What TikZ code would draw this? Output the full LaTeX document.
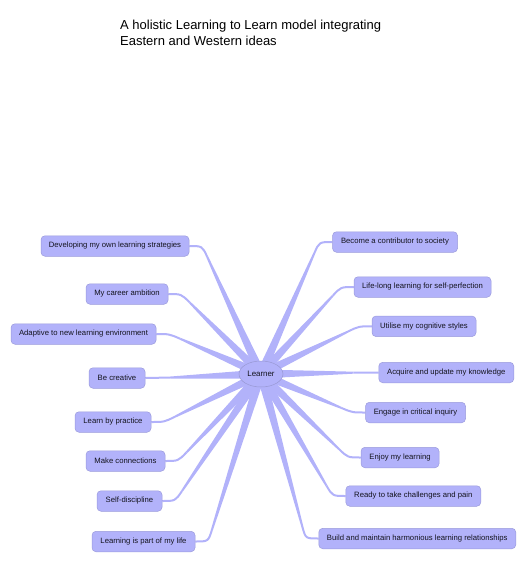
\documentclass[tikz,border=0pt]{standalone}
\usepackage{fontspec}
\setmainfont{Liberation Sans}
\usetikzlibrary{calc,shapes.geometric}
\definecolor{brc}{RGB}{178,178,250}
\definecolor{nfill}{RGB}{178,178,250}
\definecolor{nborder}{RGB}{155,155,220}
\definecolor{ntext}{RGB}{20,20,30}
\pgfdeclarelayer{bg}
\pgfsetlayers{bg,main}
\tikzset{
  leaf/.style={draw=nborder, line width=0.5pt, fill=nfill, rounded corners=4pt,
    minimum height=20.5pt, inner sep=0pt, text=ntext,
    font=\fontsize{7.7}{9}\selectfont},
  hub/.style={ellipse, draw=nborder!90!gray, line width=0.5pt, fill=nfill,
    minimum width=44pt, minimum height=26pt, inner sep=0pt, text=ntext,
    font=\fontsize{7.9}{9}\selectfont},
  brfill/.style={fill=brc},
  brline/.style={draw=brc, line width=2pt},
  titletext/.style={anchor=base west, inner sep=0pt, text=black,
    font=\fontsize{13}{16}\selectfont}
}
\newcommand\mybranch[3]{%
  \coordinate (K) at ($(#1.#2)+(#3,0)$);
  \coordinate (A) at ($(K)!12pt!(learner.center)$);
  \fill[brfill] ($(learner.center)!4.5pt!90:(A)$) -- ($(A)!1pt!-90:(learner.center)$)
     -- ($(A)!1pt!90:(learner.center)$) -- ($(learner.center)!4.5pt!-90:(A)$) -- cycle;
  \draw[brline] (A) .. controls (K) .. (#1.#2);
}
\begin{document}
\begin{tikzpicture}[x=1pt,y=-1pt]
\useasboundingbox (0,0) rectangle (527,563);
\node[titletext] (title1) at (120,29) {A holistic Learning to Learn model integrating};
\node[titletext] (title2) at (120,45) {Eastern and Western ideas};

\node[hub] (learner) at (261,374) {Learner};

\node[leaf, minimum width=148pt] (l1) at (115,246) {Developing my own learning strategies};
\node[leaf, minimum width=82pt] (l2) at (127,294) {My career ambition};
\node[leaf, minimum width=145pt] (l3) at (83.5,334) {Adaptive to new learning environment};
\node[leaf, minimum width=56pt] (l4) at (117,378) {Be creative};
\node[leaf, minimum width=76pt] (l5) at (113,422) {Learn by practice};
\node[leaf, minimum width=79pt] (l6) at (125.5,461) {Make connections};
\node[leaf, minimum width=65pt] (l7) at (129.5,501) {Self-discipline};
\node[leaf, minimum width=103pt] (l8) at (143.5,541.5) {Learning is part of my life};

\node[leaf, minimum width=125pt] (r1) at (395,242) {Become a contributor to society};
\node[leaf, minimum width=137pt] (r2) at (422.5,287) {Life-long learning for self-perfection};
\node[leaf, minimum width=104pt] (r3) at (424,326.3) {Utilise my cognitive styles};
\node[leaf, minimum width=135pt] (r4) at (446.3,372.5) {Acquire and update my knowledge};
\node[leaf, minimum width=100pt] (r5) at (415.5,412.5) {Engage in critical inquiry};
\node[leaf, minimum width=78pt] (r6) at (400,457.5) {Enjoy my learning};
\node[leaf, minimum width=135pt] (r7) at (413.3,496) {Ready to take challenges and pain};
\node[leaf, minimum width=197pt] (r8) at (417.3,538.5) {Build and maintain harmonious learning relationships};

\begin{pgfonlayer}{bg}
\foreach \n in {l1,l2,l3,l4,l5,l6,l7,l8}{\mybranch{\n}{east}{13}}
\foreach \n in {r1,r2,r3,r4,r5,r6,r7,r8}{\mybranch{\n}{west}{-13}}
\end{pgfonlayer}
\end{tikzpicture}
\end{document}
